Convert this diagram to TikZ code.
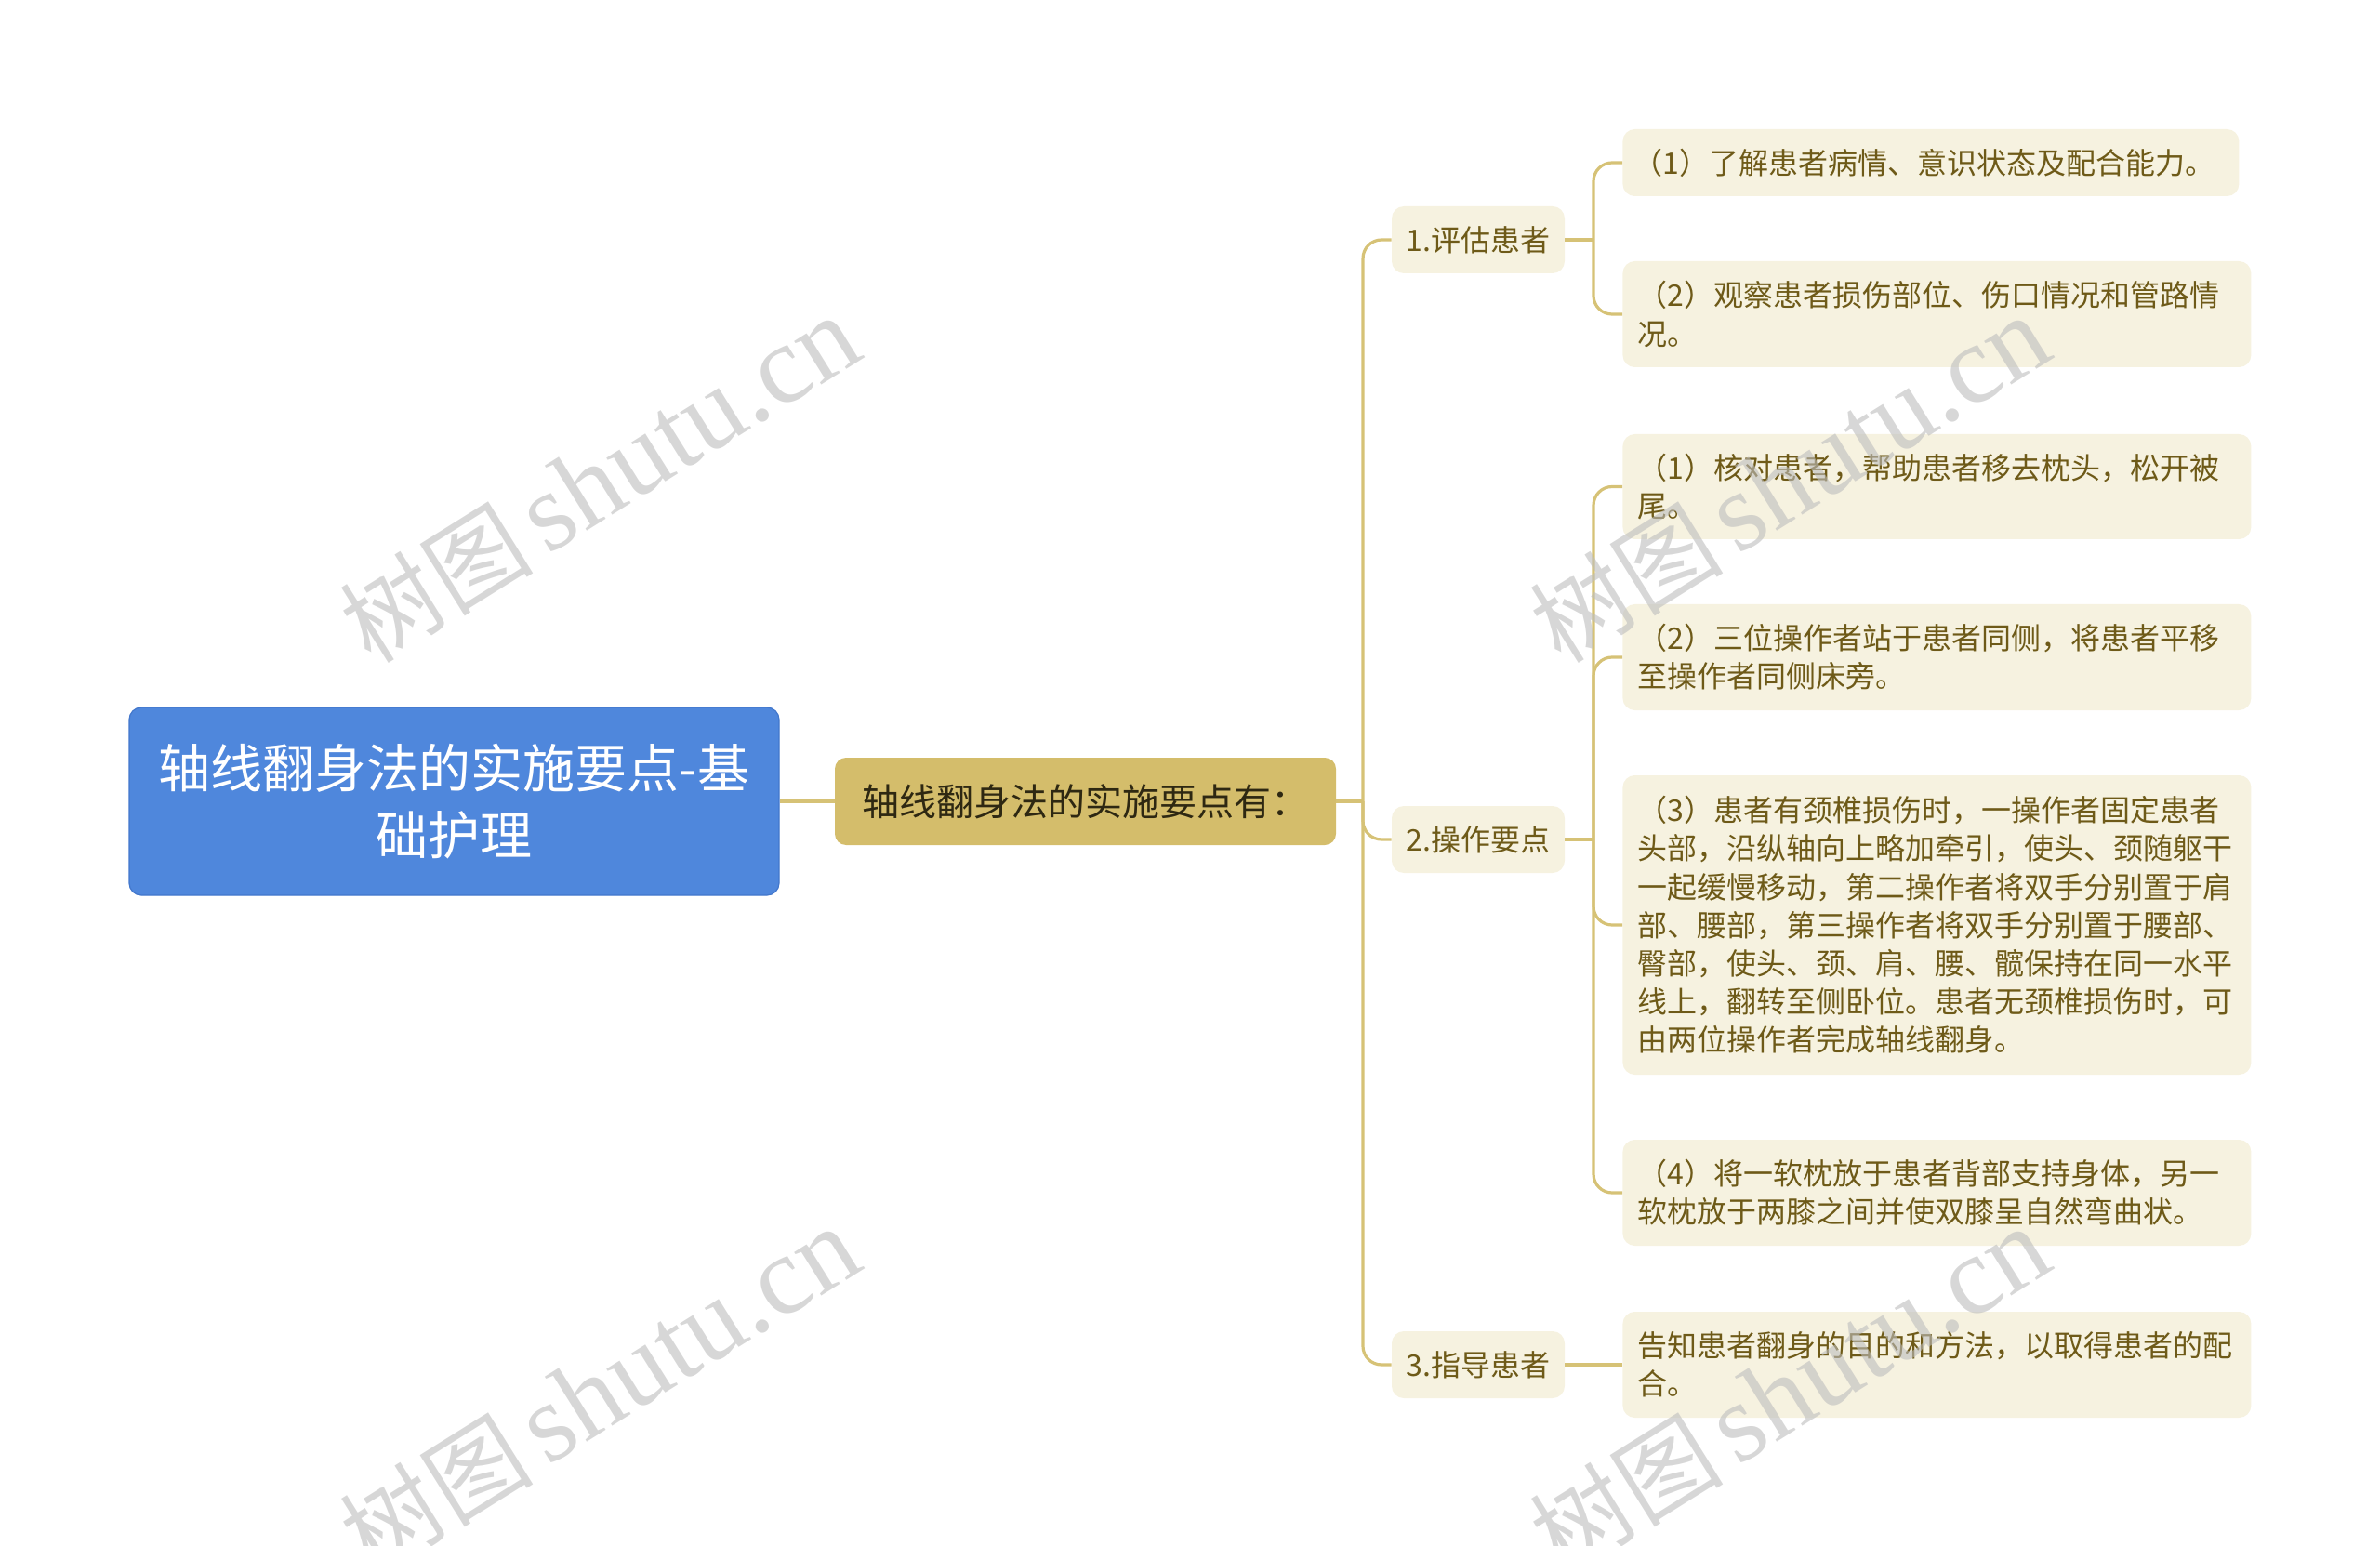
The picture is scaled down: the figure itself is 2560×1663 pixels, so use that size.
\documentclass[tikz,border=0pt]{standalone}
\usepackage{fontspec}
\setmainfont{Noto Sans CJK SC}
\newfontfamily\wmlatin{Liberation Serif}
\newfontfamily\wmcjk{Noto Sans CJK SC}
\definecolor{rootblue}{HTML}{4F87DC}
\definecolor{rootedge}{HTML}{4277CC}
\definecolor{midgold}{HTML}{D4BD6B}
\definecolor{linegold}{HTML}{D6C276}
\definecolor{cream}{HTML}{F6F2E0}
\definecolor{olive}{HTML}{6E5A18}
\definecolor{darktxt}{HTML}{2E2812}
\definecolor{wmgray}{HTML}{BDBDBD}
\begin{document}
\begin{tikzpicture}[x=0.5pt,y=-0.5pt,
  conn/.style={draw=linegold,line width=1.6pt},
  elbowconn/.style={conn,rounded corners=10pt},
  rootbox/.style={fill=rootblue,draw=rootedge,line width=0.6pt,rounded corners=6.5pt,
    text=white,align=center,minimum width=349.5pt,minimum height=101pt,inner sep=0pt,
    font=\fontsize{28pt}{36pt}\selectfont},
  midbox/.style={fill=midgold,rounded corners=6pt,text=darktxt,minimum width=269.5pt,
    minimum height=47pt,inner sep=0pt,font=\fontsize{20pt}{24pt}\selectfont},
  lone/.style={fill=cream,rounded corners=6.5pt,text=olive,minimum width=93pt,
    minimum height=36pt,inner sep=0pt,font=\fontsize{16pt}{20pt}\selectfont},
  ltwo/.style={fill=cream,rounded corners=6.5pt,text=olive,align=left,text width=322pt,
    inner xsep=8pt,inner ysep=0pt,anchor=west,font=\fontsize{16pt}{20.6pt}\selectfont},
  wm/.style={text=wmgray,text opacity=0.6,rotate=32,inner sep=0pt}
]
\useasboundingbox (0,0) rectangle (2560,1663);

% nodes
\node[rootbox] (root) at (488.5,862) {轴线翻身法的实施要点-基\\础护理};
\node[midbox] (mid) at (1167.5,862) {轴线翻身法的实施要点有：};

\node[lone] (l1a) at (1590,258) {1.评估患者};
\node[lone] (l1b) at (1590,903) {2.操作要点};
\node[lone] (l1c) at (1590,1468) {3.指导患者};

\node[ltwo,text width=320pt,inner xsep=5.75pt,minimum height=36pt] (l2a) at (1745,175)
  {（1）了解患者病情、意识状态及配合能力。};
\node[ltwo,minimum height=57pt] (l2b) at (1745,338)
  {（2）观察患者损伤部位、伤口情况和管路情\\况。};
\node[ltwo,minimum height=56.5pt] (l2c) at (1745,523.5)
  {（1）核对患者，帮助患者移去枕头，松开被\\尾。};
\node[ltwo,minimum height=57pt] (l2d) at (1745,707)
  {（2）三位操作者站于患者同侧，将患者平移\\至操作者同侧床旁。};
\node[ltwo,minimum height=161pt] (l2e) at (1745,995)
  {（3）患者有颈椎损伤时，一操作者固定患者\\头部，沿纵轴向上略加牵引，使头、颈随躯干\\一起缓慢移动，第二操作者将双手分别置于肩\\部、腰部，第三操作者将双手分别置于腰部、\\臀部，使头、颈、肩、腰、髋保持在同一水平\\线上，翻转至侧卧位。患者无颈椎损伤时，可\\由两位操作者完成轴线翻身。};
\node[ltwo,minimum height=57pt] (l2f) at (1745,1283)
  {（4）将一软枕放于患者背部支持身体，另一\\软枕放于两膝之间并使双膝呈自然弯曲状。};
\node[ltwo,minimum height=57pt] (l2g) at (1745,1468)
  {告知患者翻身的目的和方法，以取得患者的配\\合。};

% junctions
\coordinate (J0) at (1466,862);
\coordinate (J1) at (1714,258);
\coordinate (J2) at (1714,903);

% connectors
\draw[conn] (root.east) -- (mid.west);
\draw[conn] (mid.east) -- (J0);
\draw[elbowconn] (J0) |- (l1a.west);
\draw[elbowconn] (J0) |- (l1b.west);
\draw[elbowconn] (J0) |- (l1c.west);

\draw[conn] (l1a.east) -- (J1);
\draw[elbowconn] (J1) |- (l2a.west);
\draw[elbowconn] (J1) |- (l2b.west);

\draw[conn] (l1b.east) -- (J2);
\draw[elbowconn] (J2) |- (l2c.west);
\draw[elbowconn] (J2) |- (l2d.west);
\draw[elbowconn] (J2) |- (l2e.west);
\draw[elbowconn] (J2) |- (l2f.west);

\draw[conn] (l1c.east) -- (l2g.west);

% watermarks
\node[wm] (wm1) at (645,516) {\wmcjk\fontsize{52pt}{60pt}\selectfont 树图\hspace{8pt}\wmlatin\fontsize{60pt}{60pt}\selectfont shutu.cn};
\node[wm] (wm2) at (645,1496) {\wmcjk\fontsize{52pt}{60pt}\selectfont 树图\hspace{8pt}\wmlatin\fontsize{60pt}{60pt}\selectfont shutu.cn};
\node[wm] (wm3) at (1925,516) {\wmcjk\fontsize{52pt}{60pt}\selectfont 树图\hspace{8pt}\wmlatin\fontsize{60pt}{60pt}\selectfont shutu.cn};
\node[wm] (wm4) at (1925,1496) {\wmcjk\fontsize{52pt}{60pt}\selectfont 树图\hspace{8pt}\wmlatin\fontsize{60pt}{60pt}\selectfont shutu.cn};
\end{tikzpicture}
\end{document}
